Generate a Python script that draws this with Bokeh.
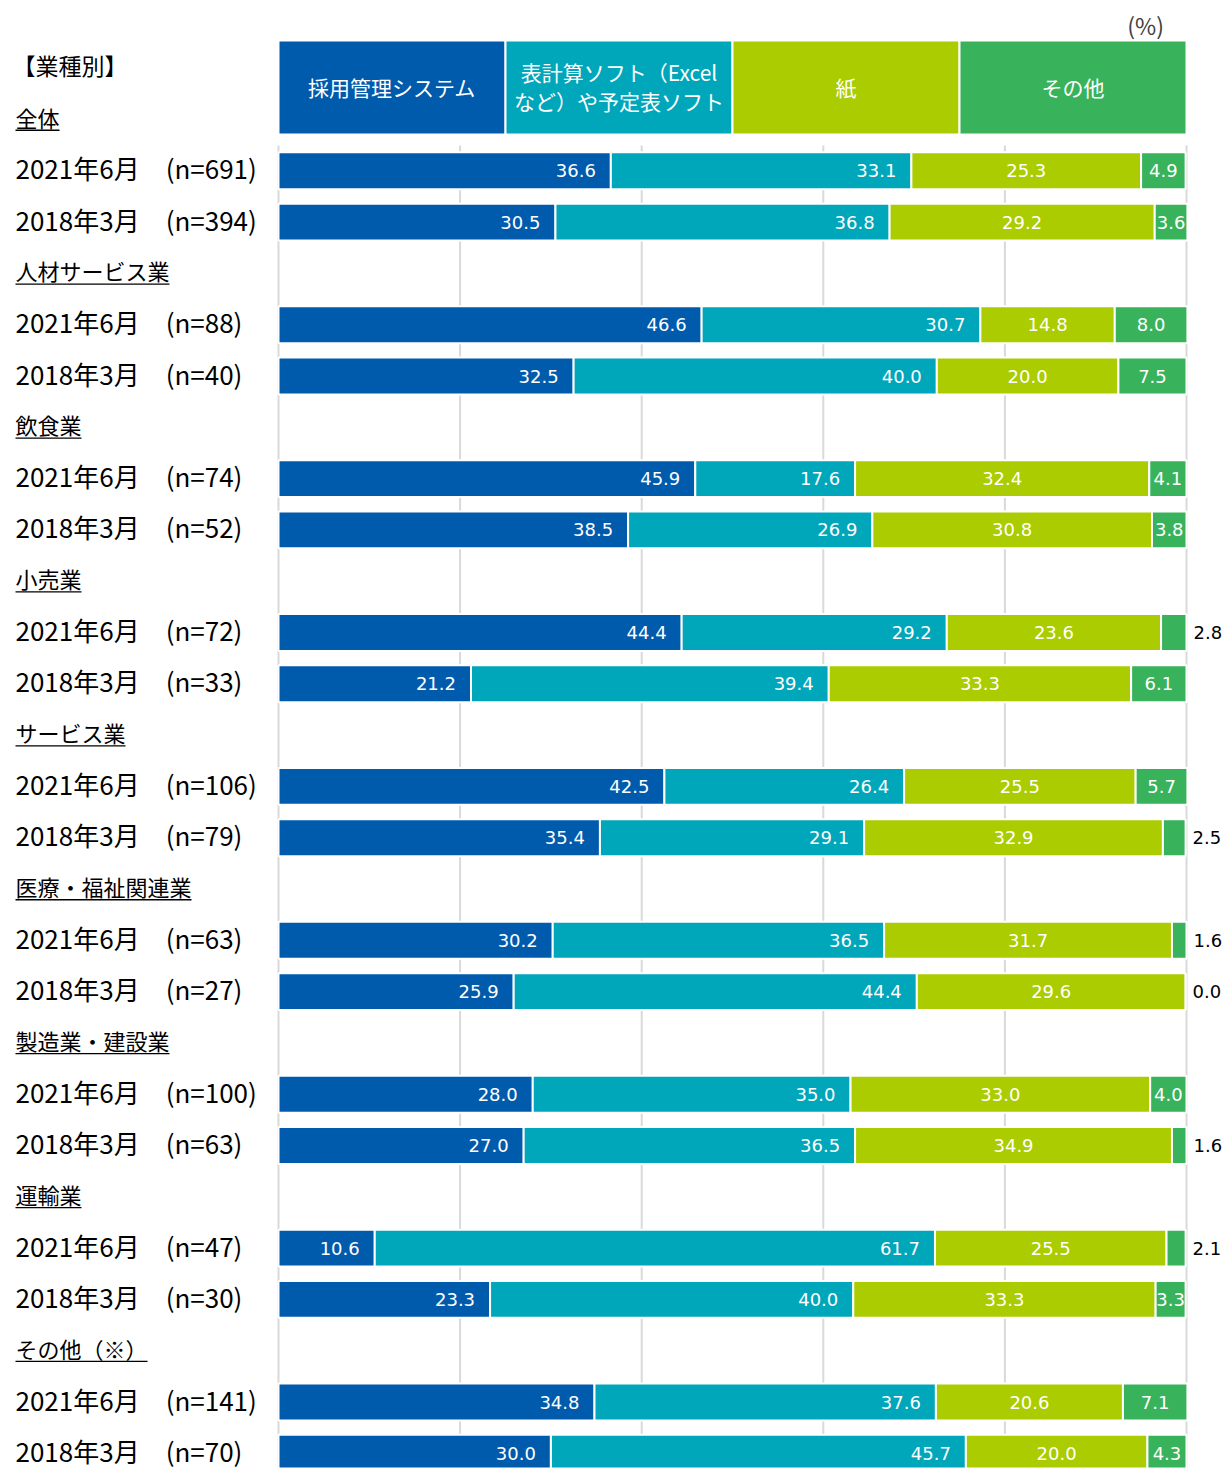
from bokeh.plotting import figure
from bokeh.models import ColumnDataSource, Range1d
from bokeh.core.properties import value
from bokeh.embed import file_html
from bokeh.resources import INLINE

# ---------------- data ----------------
groups = ["全体", "人材サービス業", "飲食業", "小売業", "サービス業",
          "医療・福祉関連業", "製造業・建設業", "運輸業", "その他（※）"]
n_2021 = [691, 88, 74, 72, 106, 63, 100, 47, 141]
n_2018 = [394, 40, 52, 33, 79, 27, 63, 30, 70]
periods = ["2021年6月", "2018年3月"]
series = ["採用管理システム", "表計算ソフト（Excel\nなど）や予定表ソフト", "紙", "その他"]

system_2021 = [36.6, 46.6, 45.9, 44.4, 42.5, 30.2, 28.0, 10.6, 34.8]
sheet_2021 = [33.1, 30.7, 17.6, 29.2, 26.4, 36.5, 35.0, 61.7, 37.6]
paper_2021 = [25.3, 14.8, 32.4, 23.6, 25.5, 31.7, 33.0, 25.5, 20.6]
other_2021 = [4.9, 8.0, 4.1, 2.8, 5.7, 1.6, 4.0, 2.1, 7.1]

system_2018 = [30.5, 32.5, 38.5, 21.2, 35.4, 25.9, 27.0, 23.3, 30.0]
sheet_2018 = [36.8, 40.0, 26.9, 39.4, 29.1, 44.4, 36.5, 40.0, 45.7]
paper_2018 = [29.2, 20.0, 30.8, 33.3, 32.9, 29.6, 34.9, 33.3, 20.0]
other_2018 = [3.6, 7.5, 3.8, 6.1, 2.5, 0.0, 1.6, 3.3, 4.3]

grid_ticks = [0, 20, 40, 60, 80, 100]

colors = ["#005BAC", "#00A6BA", "#AACC00", "#38B25B"]

# ---------------- layout constants ----------------
W, H = 1226, 1468
PX_PER_UNIT = 9.08          # 908 px for 100 %
X0_PX = 278                 # pixel of 0 %
ROW0_PX = 67.7              # pixel centre of row 0
ROW_PX = 51.3               # row pitch
JP = "Noto Sans CJK JP"
NUM = "DejaVu Sans"

x_start = -X0_PX / PX_PER_UNIT
x_end = (W - X0_PX) / PX_PER_UNIT
y_bottom = (H - ROW0_PX) / ROW_PX
y_top = -ROW0_PX / ROW_PX

def px_row(py):
    return (py - ROW0_PX) / ROW_PX

p = figure(width=W, height=H, x_range=Range1d(x_start, x_end),
           y_range=Range1d(y_bottom, y_top), output_backend="svg",
           toolbar_location=None, min_border=0, outline_line_color=None)
p.xaxis.visible = False
p.yaxis.visible = False
p.xgrid.visible = False
p.ygrid.visible = False
p.background_fill_color = "white"
p.border_fill_color = "white"

# ---------------- rows ----------------
head_y, head_txt = [], []
row_y, row_txt = [], []
bars = {k: [] for k in range(4)}
for i, g in enumerate(groups):
    k = 1 + 3 * i
    head_y.append(k)
    head_txt.append(g)
    vals21 = [system_2021[i], sheet_2021[i], paper_2021[i], other_2021[i]]
    vals18 = [system_2018[i], sheet_2018[i], paper_2018[i], other_2018[i]]
    for j, (per, n, vals) in enumerate([(periods[0], n_2021[i], vals21),
                                        (periods[1], n_2018[i], vals18)]):
        y = k + 1 + j
        row_y.append(y)
        row_txt.append(f"{per}　(n={n})")
        left = 0.0
        for s in range(4):
            bars[s].append((y, left, left + vals[s], vals[s]))
            left += vals[s]

# gridlines
gtop = px_row(145)
p.segment(x0=grid_ticks, x1=grid_ticks, y0=[gtop] * len(grid_ticks),
          y1=[y_bottom] * len(grid_ticks), line_color="#D9D9D9", line_width=2)

# bars + labels
for s in range(4):
    ys = [b[0] for b in bars[s]]
    ls = [b[1] for b in bars[s]]
    rs = [b[2] for b in bars[s]]
    vs = [b[3] for b in bars[s]]
    src = ColumnDataSource(dict(y=ys, left=ls, right=rs, v=vs,
                                t=[f"{v:.1f}" for v in vs],
                                mid=[(a + b) / 2 for a, b in zip(ls, rs)]))
    p.hbar(y="y", left="left", right="right", height=0.72, source=src,
           fill_color=colors[s], line_color="white", line_width=2)
    if s < 2:
        p.text(x="right", y="y", text="t", source=src, x_offset=-15,
               text_align="right", text_baseline="middle",
               text_color="white", text_font=value(NUM), text_font_size="18px")
    elif s == 2:
        p.text(x="mid", y="y", text="t", source=src,
               text_align="center", text_baseline="middle",
               text_color="white", text_font=value(NUM), text_font_size="18px")
    else:
        inside = ColumnDataSource(dict(
            x=[m for m, v in zip(src.data["mid"], vs) if v >= 3],
            y=[y for y, v in zip(ys, vs) if v >= 3],
            t=[f"{v:.1f}" for v in vs if v >= 3]))
        outside = ColumnDataSource(dict(
            x=[r for r, v in zip(rs, vs) if v < 3],
            y=[y for y, v in zip(ys, vs) if v < 3],
            t=[f"{v:.1f}" for v in vs if v < 3]))
        p.text(x="x", y="y", text="t", source=inside,
               text_align="center", text_baseline="middle",
               text_color="white", text_font=value(NUM), text_font_size="18px")
        p.text(x="x", y="y", text="t", source=outside, x_offset=7,
               text_align="left", text_baseline="middle",
               text_color="black", text_font=value(NUM), text_font_size="18px")

# header boxes
hb_top, hb_bot = px_row(40), px_row(134)
edges = [0, 25, 50, 75, 100]
p.quad(left=edges[:-1], right=edges[1:], top=[hb_top] * 4, bottom=[hb_bot] * 4,
       fill_color=colors, line_color="white", line_width=2)
p.text(x=[(a + b) / 2 for a, b in zip(edges[:-1], edges[1:])],
       y=[px_row(88)] * 4, text=series, text_align="center",
       text_baseline="middle", text_color="white", text_font=value(JP),
       text_font_size="21px", text_line_height=0.95, y_offset=-2)

# left labels
lx = -X0_PX / PX_PER_UNIT + 15 / PX_PER_UNIT
p.text(x=[lx], y=[0], text=["【業種別】"], text_align="left",
       text_baseline="middle", text_color="black", text_font=value(JP),
       text_font_size="23px", x_offset=-3, y_offset=-3)
p.text(x=[lx] * len(head_y), y=head_y, text=head_txt, text_align="left",
       text_baseline="middle", text_color="black", text_font=value(JP),
       text_font_size="22px", y_offset=-3)
# underlines under group headings
HFS = 22
def tw(s):
    return sum(HFS if ord(c) > 0x2000 else HFS * 0.55 for c in s) / PX_PER_UNIT
p.segment(x0=[lx] * len(head_y), x1=[lx + tw(t) for t in head_txt],
          y0=[y + 0.21 for y in head_y], y1=[y + 0.21 for y in head_y],
          line_color="black", line_width=1.3)
p.text(x=[lx] * len(row_y), y=row_y, text=row_txt, text_align="left",
       text_baseline="middle", text_color="black", text_font=value(JP),
       text_font_size="26px", y_offset=-3)

# (%)
p.text(x=[95.5], y=[px_row(24)], text=["(%)"], text_align="center",
       text_baseline="middle", text_color="#404040", text_font=value(JP),
       text_font_size="23px")

open("out.html", "w").write(file_html(p, INLINE))
